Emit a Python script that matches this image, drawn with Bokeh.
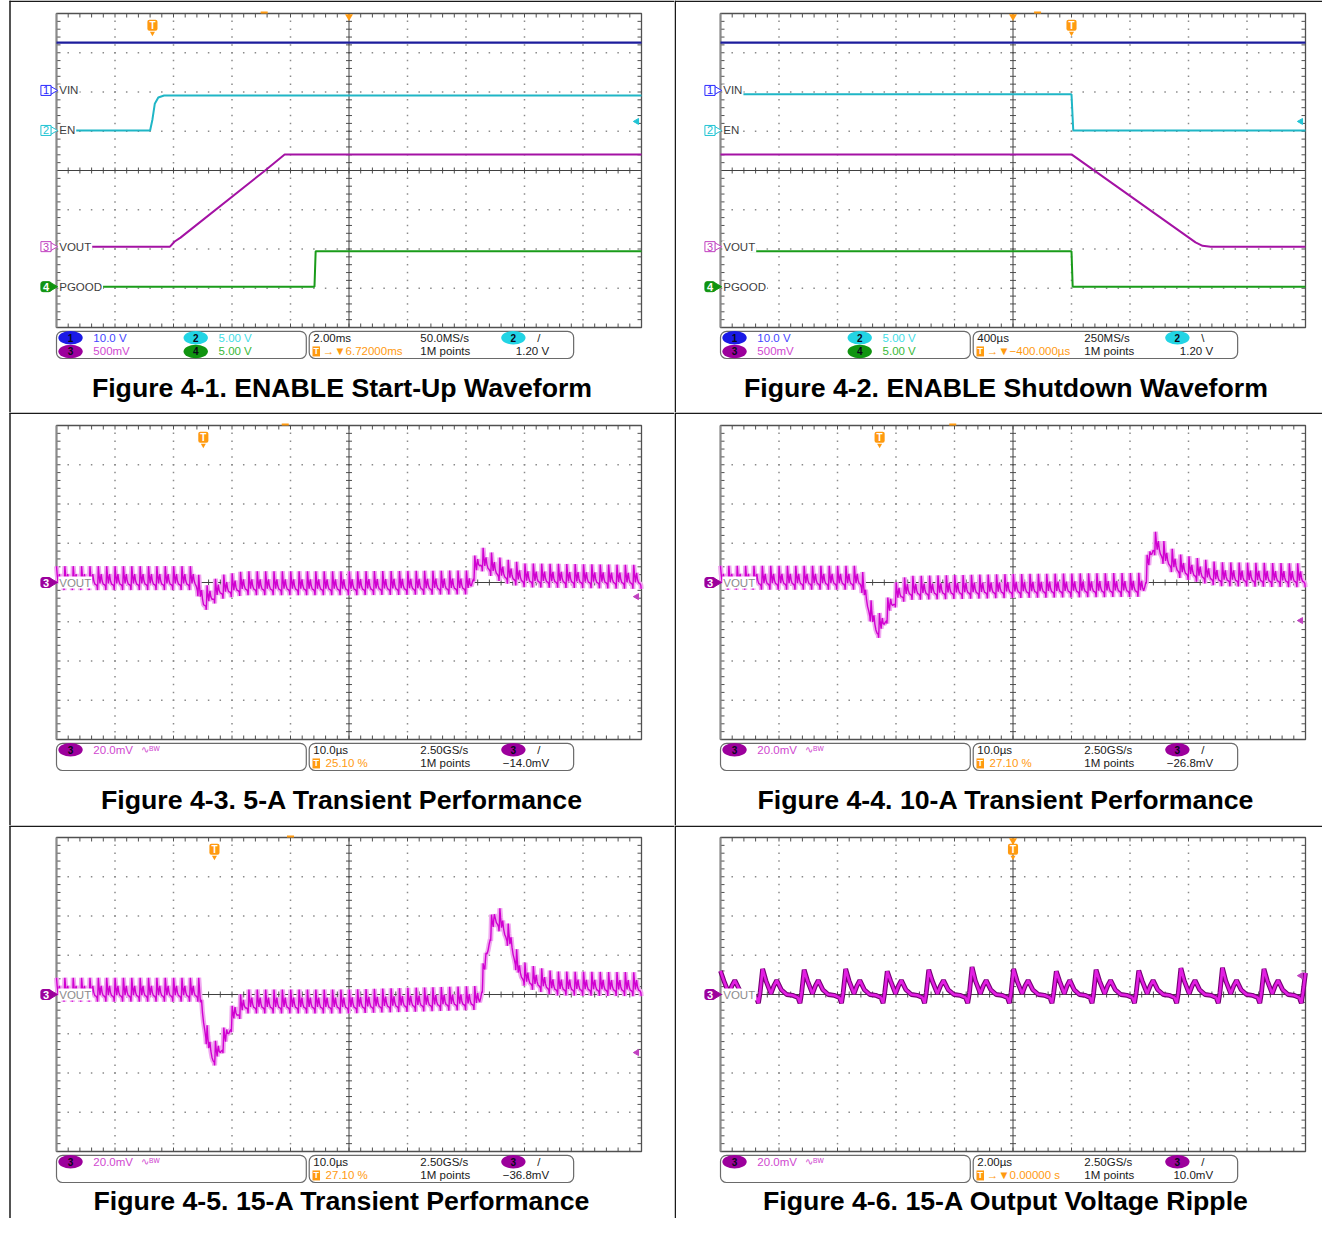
import numpy as np
from bokeh.plotting import figure
from bokeh.layouts import gridplot
from bokeh.models import Range1d
from bokeh.core.properties import value
from bokeh.embed import file_html
from bokeh.resources import INLINE

# ---------------- data (in screen divisions) ----------------
TITLES = ["Figure 4-1. ENABLE Start-Up Waveform", "Figure 4-2. ENABLE Shutdown Waveform",
          "Figure 4-3. 5-A Transient Performance", "Figure 4-4. 10-A Transient Performance",
          "Figure 4-5. 15-A Transient Performance", "Figure 4-6. 15-A Output Voltage Ripple"]

# Figure 4-1 (x: 0..10 div, y: -4..4 div)
P1_VIN_X = [0.0, 10.0]
P1_VIN_Y = [3.26, 3.26]
P1_EN_X = [0.28, 1.60, 1.64, 1.68, 1.74, 1.84, 10.0]
P1_EN_Y = [1.02, 1.02, 1.30, 1.70, 1.86, 1.91, 1.91]
P1_VOUT_X = [0.53, 1.94, 2.02, 2.12, 3.54, 3.90, 10.0]
P1_VOUT_Y = [-1.94, -1.94, -1.81, -1.71, -0.03, 0.41, 0.41]
P1_PG_X = [0.58, 4.41, 4.43, 10.0]
P1_PG_Y = [-2.96, -2.96, -2.06, -2.06]

# Figure 4-2
P2_VIN_X = [0.0, 10.0]
P2_VIN_Y = [3.26, 3.26]
P2_EN_X = [0.34, 6.00, 6.03, 10.0]
P2_EN_Y = [1.94, 1.94, 1.02, 1.02]
P2_VOUT_X = [0.0, 6.00, 8.12, 8.24, 8.38, 10.0]
P2_VOUT_Y = [0.41, 0.41, -1.83, -1.92, -1.94, -1.94]
P2_PG_X = [0.51, 6.00, 6.02, 10.0]
P2_PG_Y = [-2.06, -2.06, -2.96, -2.96]

RIPPLE_PERIOD_US = 1.43
RIPPLE_PHASE = [0.0, 0.08, 0.20, 0.27, 0.34, 0.45, 0.58, 0.72, 0.85, 0.90, 0.94]
RIPPLE_SHAPE = [0.65, 0.35, 0.02, 0.22, 0.36, 0.12, 0.0, -0.02, -0.08, -0.22, 0.05]
RIPPLE_SCALE_10US = 0.7

# Load transients: band mean of VOUT (div)
P3_MEAN_X = [0, 2.38, 2.45, 2.52, 2.62, 2.80, 3.2, 5.0, 7.08, 7.14, 7.25, 7.38, 7.6, 8.0, 10]
P3_MEAN_Y = [0.05, 0.05, -0.25, -0.5, -0.38, -0.18, -0.08, -0.08, -0.06, 0.3, 0.55, 0.45, 0.25, 0.12, 0.08]
P4_MEAN_X = [0, 2.40, 2.48, 2.58, 2.68, 2.78, 2.90, 3.02, 3.2, 5.0, 7.24, 7.30, 7.40, 7.48, 7.62, 7.86, 8.5, 10]
P4_MEAN_Y = [0.06, 0.06, -0.35, -0.85, -1.2, -1.05, -0.6, -0.32, -0.2, -0.15, -0.12, 0.4, 0.95, 0.9, 0.6, 0.35, 0.15, 0.12]
P5_MEAN_X = [0, 2.44, 2.50, 2.58, 2.68, 2.78, 2.90, 3.04, 3.24, 5.0, 7.16, 7.24, 7.32, 7.42, 7.50, 7.60, 7.77, 7.90, 8.04, 8.5, 10]
P5_MEAN_Y = [0.06, 0.06, -0.5, -1.2, -1.6, -1.45, -1.09, -0.5, -0.24, -0.24, -0.15, -0.1, 0.7, 1.6, 1.95, 1.8, 1.3, 0.6, 0.4, 0.22, 0.2]

# Ripple (Figure 4-6): peak positions and heights (div)
P6_PEAK_X = [0.0, 0.72, 1.43, 2.14, 2.85, 3.56, 4.30, 5.01, 5.74, 6.42, 7.15, 7.87, 8.58, 9.29, 10.0]
P6_PEAK_Y = [0.60, 0.65, 0.63, 0.65, 0.59, 0.63, 0.70, 0.65, 0.59, 0.63, 0.61, 0.67, 0.68, 0.65, 0.55]

# scope annotations
TIME_PER_DIV_US = [2000, 400, 10, 10, 10, 2]
TRIG_T_X = [1.64, 6.00, 2.51, 2.72, 2.70, 5.00]
TRIG_DASH_X = [3.55, 5.42, 3.91, 3.97, 4.00, None]
TRIG_CENTER = [True, True, False, False, False, True]
LEVEL_Y = [1.25, 1.25, -0.36, -0.97, -1.48, 0.48]
LEVEL_CH = ["2", "2", "3", "3", "3", "3"]

STATUS = [
    dict(chans=[("1", "10.0 V"), ("2", "5.00 V"), ("3", "500mV"), ("4", "5.00 V")], bw=False,
         tb="2.00ms", rate="50.0MS/s", tch="2", slope="/", pos="→▼6.72000ms", arrow=True,
         pts="1M points", lvl="1.20 V"),
    dict(chans=[("1", "10.0 V"), ("2", "5.00 V"), ("3", "500mV"), ("4", "5.00 V")], bw=False,
         tb="400µs", rate="250MS/s", tch="2", slope="\\", pos="→▼−400.000µs", arrow=True,
         pts="1M points", lvl="1.20 V"),
    dict(chans=[("3", "20.0mV")], bw=True, tb="10.0µs", rate="2.50GS/s", tch="3", slope="/",
         pos="25.10 %", arrow=False, pts="1M points", lvl="−14.0mV"),
    dict(chans=[("3", "20.0mV")], bw=True, tb="10.0µs", rate="2.50GS/s", tch="3", slope="/",
         pos="27.10 %", arrow=False, pts="1M points", lvl="−26.8mV"),
    dict(chans=[("3", "20.0mV")], bw=True, tb="10.0µs", rate="2.50GS/s", tch="3", slope="/",
         pos="27.10 %", arrow=False, pts="1M points", lvl="−36.8mV"),
    dict(chans=[("3", "20.0mV")], bw=True, tb="2.00µs", rate="2.50GS/s", tch="3", slope="/",
         pos="→▼0.00000 s", arrow=True, pts="1M points", lvl="10.0mV"),
]

CH_LABELS_12 = [("1", 2.04, "VIN"), ("2", 1.02, "EN"), ("3", -1.94, "VOUT"), ("4", -2.96, "PGOOD")]

# ---------------- layout / styling ----------------
CELL_X = [0, 674]
CELL_W = [674, 648]
CELL_Y = [0, 412, 825]
CELL_H = [412, 413, 393]
SCREEN_X = [56, 720]
SCREEN_Y = [13, 425, 837]
DX, DY = 58.5, 39.25
TITLE_Y = [-5.53, -5.53, -5.26]

FONT = "Liberation Sans"
SFONT = "11.5px"
ORANGE = "#ff9a10"
CH_BADGE = {"1": "#1a1ae6", "2": "#22d4e4", "3": "#9c009c", "4": "#109410"}
CH_TEXT = {"1": "#4646ff", "2": "#3fdde6", "3": "#d048d0", "4": "#38b838"}
CH_MARK = {"1": "#2a2aff", "2": "#22c4d4", "3": "#c040c0", "4": "#129412"}


def txt(p, x, y, s, color="#202020", size=SFONT, align="left", style="normal", **kw):
    p.text(x=[x], y=[y], text=[s], text_color=color, text_font=value(FONT),
           text_font_size=size, text_align=align, text_baseline="middle",
           text_font_style=style, **kw)


def make_panel(col, row):
    fx, fw = CELL_X[col], CELL_W[col]
    fy, fh = CELL_Y[row], CELL_H[row]
    sx, sy = SCREEN_X[col], SCREEN_Y[row]
    p = figure(width=fw, height=fh, output_backend="svg", toolbar_location=None,
               x_range=Range1d((fx - sx) / DX, (fx + fw - sx) / DX),
               y_range=Range1d(4 - (fy + fh - sy) / DY, 4 + (sy - fy) / DY),
               x_axis_location=None, y_axis_location=None, min_border=0,
               outline_line_color=None,
               background_fill_color="white", border_fill_color="white")
    p.grid.visible = False

    def px(v):
        return (v - sx) / DX

    def py(v):
        return 4 - (v - sy) / DY

    # table rules of the page
    left_rule = 9.5 if col == 0 else 674.75
    top_rule = fy + 0.75
    p.segment([px(left_rule), px(9 if col == 0 else fx)], [py(fy), py(top_rule)],
              [px(left_rule), px(fx + fw)], [py(fy + fh), py(top_rule)],
              line_color="#1a1a1a", line_width=1.5)
    return p


def draw_screen(p):
    gx, gy = [], []
    for i in range(1, 10):
        if i == 5:
            continue
        for k in range(1, 40):
            gx.append(i)
            gy.append(-4 + k * 0.2)
    for j in range(-3, 4):
        if j == 0:
            continue
        for k in range(1, 50):
            gx.append(k * 0.2)
            gy.append(j)
    p.scatter(gx, gy, marker="square", size=1.5, fill_color="#8a8a8a", line_color=None)
    x0, y0, x1, y1 = [], [], [], []
    for k in range(1, 50):
        xv = k * 0.2
        x0 += [xv, xv, xv]
        x1 += [xv, xv, xv]
        y0 += [4, -4, -3 / DY]
        y1 += [4 - 4 / DY, -4 + 4 / DY, 3 / DY]
    for k in range(1, 40):
        yv = -4 + k * 0.2
        y0 += [yv, yv, yv]
        y1 += [yv, yv, yv]
        x0 += [0, 10, 5 - 3 / DX]
        x1 += [4 / DX, 10 - 4 / DX, 5 + 3 / DX]
    p.segment(x0, y0, x1, y1, line_color="#505050", line_width=1)
    p.segment([5, 0], [-4, 0], [5, 10], [4, 0], line_color="#404040", line_width=1)
    p.quad(left=[0], right=[10], bottom=[-4], top=[4], fill_color=None,
           line_color="#505050", line_width=1.3)
    p.segment([0], [-4], [0], [4], line_color="#8a8a8a", line_width=2)


def ch_marker(p, ch, y, label, filled, label_color="#404040"):
    if filled:
        txt(p, -0.18, y, ch, color="white", size="11px", align="center", style="bold",
            background_fill_color=CH_BADGE[ch], border_line_color=CH_BADGE[ch],
            padding=(2, 1), border_radius=2)
        p.scatter([-0.06], [y], marker="triangle", angle=-np.pi / 2, size=8,
                  fill_color=CH_BADGE[ch], line_color=CH_BADGE[ch])
    else:
        p.scatter([-0.06], [y], marker="triangle", angle=-np.pi / 2, size=8,
                  fill_color="white", line_color=CH_MARK[ch])
        txt(p, -0.18, y, ch, color=CH_MARK[ch], size="11px", align="center",
            background_fill_color="white", border_line_color=CH_MARK[ch], padding=(2, 1))
    txt(p, 0.03, y, label, color=label_color, size="11.5px",
        background_fill_color="white", padding=(1, 0))


def trig_marks(p, i):
    txt(p, TRIG_T_X[i], 3.70, "T", color="white", size="10px", align="center", style="bold",
        background_fill_color=ORANGE, border_radius=2, padding=(2, 0))
    p.scatter([TRIG_T_X[i]], [3.70 - 8 / DY], marker="inverted_triangle", size=5,
              fill_color=ORANGE, line_color=None)
    if TRIG_CENTER[i]:
        p.scatter([5.0], [4 - 3 / DY], marker="inverted_triangle", size=8,
                  fill_color=ORANGE, line_color=None)
    if TRIG_DASH_X[i] is not None:
        p.scatter([TRIG_DASH_X[i]], [4 + 1 / DY], marker="dash", size=7,
                  line_color=ORANGE, line_width=2)
    lc = CH_MARK[LEVEL_CH[i]]
    p.scatter([10 - 0.08], [LEVEL_Y[i]], marker="triangle", angle=np.pi / 2, size=6,
              fill_color=lc, line_color=lc)


def status(p, i):
    s = STATUS[i]
    p.quad(left=[0, 4.32], right=[4.27, 8.84], top=[-4.10, -4.10], bottom=[-4.79, -4.79],
           fill_color="white", line_color="#6a6a6a", line_width=1.2, border_radius=6)
    r1, r2 = -4.26, -4.61
    spots = [(0.24, r1), (2.38, r1), (0.24, r2), (2.38, r2)]
    for (ch, val), (bx, by) in zip(s["chans"], spots):
        txt(p, bx, by, ch, color="#080818", size="10px", align="center", style="bold",
            background_fill_color=CH_BADGE[ch], outline_shape="ellipse", padding=(7, 0))
        txt(p, bx + 0.39, by, val, color=CH_TEXT[ch])
    if s["bw"]:
        txt(p, 1.45, r1, "∿ᴮᵂ", color=CH_TEXT["3"], size="10px")
    txt(p, 4.39, r1, s["tb"])
    txt(p, 6.22, r1, s["rate"])
    txt(p, 7.81, r1, s["tch"], color="#080818", size="10px", align="center", style="bold",
        background_fill_color=CH_BADGE[s["tch"]], outline_shape="ellipse", padding=(7, 0))
    txt(p, 8.22, r1, s["slope"])
    txt(p, 4.44, r2, "T", color="white", size="9px", align="center", style="bold",
        background_fill_color=ORANGE, padding=(1, 0))
    txt(p, 4.55 if s["arrow"] else 4.60, r2, s["pos"], color=ORANGE)
    txt(p, 6.22, r2, s["pts"])
    txt(p, 8.42, r2, s["lvl"], align="right")


def title(p, i):
    txt(p, 4.88, TITLE_Y[i // 2], TITLES[i], color="black", size="26.7px", align="center",
        style="bold")


def ripple_over(mean_x, mean_y, period_div, scale):
    shape = np.array(RIPPLE_SHAPE) * scale
    ph = np.array(RIPPLE_PHASE + [1.0])
    sh = np.append(shape, shape[0])
    shape_mean = np.sum((sh[1:] + sh[:-1]) / 2 * np.diff(ph))
    xs, ys = [], []
    k = 0
    while k * period_div <= 10:
        for phs, v in zip(RIPPLE_PHASE, shape):
            x = (k + phs) * period_div
            if x > 10:
                break
            xs.append(x)
            ys.append(np.interp(x, mean_x, mean_y) - shape_mean + v)
        k += 1
    return xs, ys


def p6_trace():
    xs, ys = [], []
    for i in range(len(P6_PEAK_X) - 1):
        a, b = P6_PEAK_X[i], P6_PEAK_X[i + 1]
        sc = P6_PEAK_Y[i] / RIPPLE_SHAPE[0]
        for phs, v in zip(RIPPLE_PHASE, RIPPLE_SHAPE):
            xs.append(a + phs * (b - a))
            ys.append(v * sc if phs == 0 else v)
    xs.append(P6_PEAK_X[-1])
    ys.append(P6_PEAK_Y[-1])
    return xs, ys


panels = []
for i in range(6):
    col, row = i % 2, i // 2
    p = make_panel(col, row)
    draw_screen(p)
    if i == 0:
        p.line(P1_VIN_X, P1_VIN_Y, line_color="#1c1c9c", line_width=2.2)
        p.line(P1_EN_X, P1_EN_Y, line_color="#1fb6c6", line_width=2)
        p.line(P1_VOUT_X, P1_VOUT_Y, line_color="#a412a4", line_width=2)
        p.line(P1_PG_X, P1_PG_Y, line_color="#1a9c1a", line_width=2)
    elif i == 1:
        p.line(P2_VIN_X, P2_VIN_Y, line_color="#1c1c9c", line_width=2.2)
        p.line(P2_EN_X, P2_EN_Y, line_color="#1fb6c6", line_width=2)
        p.line(P2_VOUT_X, P2_VOUT_Y, line_color="#a412a4", line_width=2)
        p.line(P2_PG_X, P2_PG_Y, line_color="#1a9c1a", line_width=2)
    elif i in (2, 3, 4):
        mx, my = [(P3_MEAN_X, P3_MEAN_Y), (P4_MEAN_X, P4_MEAN_Y), (P5_MEAN_X, P5_MEAN_Y)][i - 2]
        xs, ys = ripple_over(mx, my, RIPPLE_PERIOD_US / TIME_PER_DIV_US[i], RIPPLE_SCALE_10US)
        p.line(xs, ys, line_color="#f0a8f0", line_width=5)
        p.line(xs, ys, line_color="#d000d0", line_width=1.4)
    else:
        xs, ys = p6_trace()
        p.line(xs, ys, line_color="#760076", line_width=4.8)
        p.line(xs, ys, line_color="#e21ee2", line_width=2.6)
    if i < 2:
        for ch, yv, lab in CH_LABELS_12:
            ch_marker(p, ch, yv, lab, filled=(ch == "4"))
    else:
        ch_marker(p, "3", 0.0, "VOUT", filled=True, label_color="#8c8c8c")
    trig_marks(p, i)
    status(p, i)
    title(p, i)
    panels.append(p)

grid = gridplot([[panels[0], panels[1]], [panels[2], panels[3]], [panels[4], panels[5]]],
                toolbar_location=None)
open("out.html", "w").write(file_html(grid, INLINE))
